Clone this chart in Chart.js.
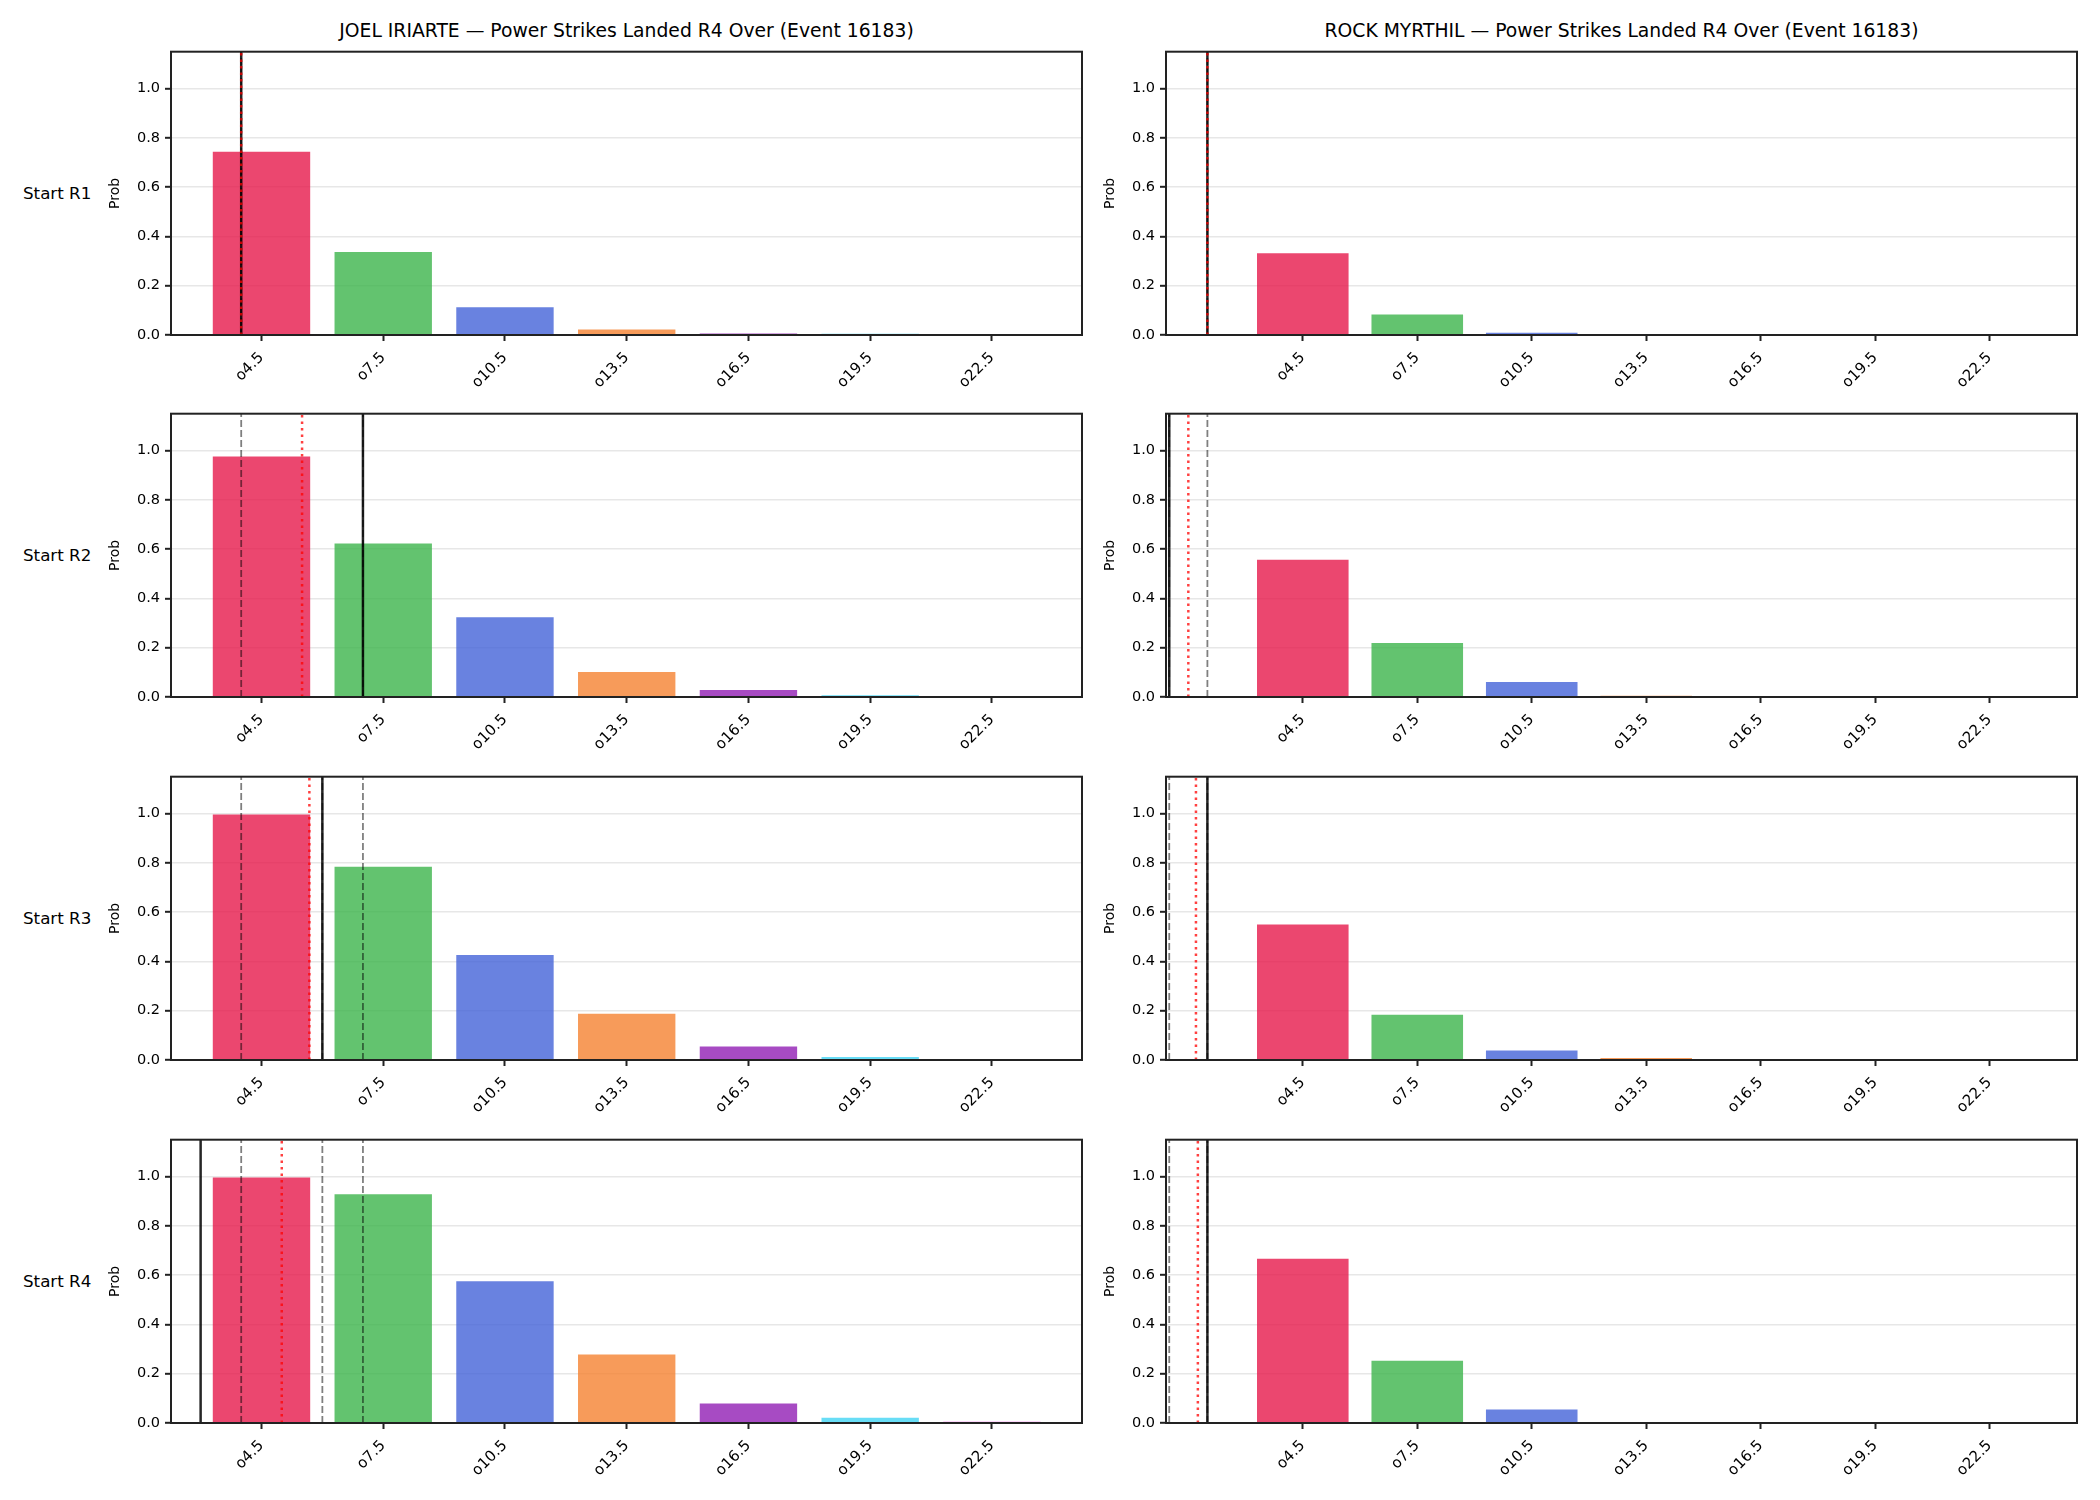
<!DOCTYPE html>
<html>
<head>
<meta charset="utf-8">
<script src="https://cdn.jsdelivr.net/npm/chart.js@4.4.0/dist/chart.umd.min.js"></script>
<style>
  body { margin: 0; background: #fff; width: 2100px; height: 1500px; position: relative; overflow: hidden; font-family: "DejaVu Sans", sans-serif; color: #000; }
  canvas { position: absolute; }
  .title { position: absolute; font-size: 18.75px; line-height: 20px; text-align: center; white-space: nowrap; }
  .rowlab { position: absolute; left: 23px; font-size: 16.7px; line-height: 20px; white-space: nowrap; }
</style>
</head>
<body>
<script>
// data
const fighters = ['JOEL IRIARTE', 'ROCK MYRTHIL'];
const market = 'Power Strikes Landed R4 Over (Event 16183)';
const startRounds = ['Start R1', 'Start R2', 'Start R3', 'Start R4'];
const lines = ['o4.5', 'o7.5', 'o10.5', 'o13.5', 'o16.5', 'o19.5', 'o22.5'];
const yTicks = [0, 0.2, 0.4, 0.6, 0.8, 1.0];

const joelProbs = [
    [0.744, 0.337, 0.113, 0.022, 0.006, 0.005, 0.001],
    [0.976, 0.623, 0.324, 0.101, 0.028, 0.007, 0.003],
    [0.997, 0.784, 0.426, 0.188, 0.055, 0.012, 0.004],
    [0.997, 0.929, 0.575, 0.278, 0.079, 0.021, 0.005]
];
const rockProbs = [
    [0.332, 0.083, 0.009, 0.001, 0.0, 0.0, 0.0],
    [0.557, 0.219, 0.061, 0.005, 0.003, 0.001, 0.0],
    [0.550, 0.184, 0.039, 0.008, 0.003, 0.001, 0.0],
    [0.667, 0.253, 0.055, 0.004, 0.001, 0.0, 0.0]
];

// vertical markers (strike counts)
const joelActual = [4, 7, 6, 3];
const joelMean = [4, 5.5, 5.68, 5.0];
const joelQuantiles = [[4], [4, 7], [4, 6, 7], [4, 6, 7]];
const rockActual = [2, 1, 2, 2];
const rockMean = [2, 1.5, 1.7, 1.75];
const rockQuantiles = [[2], [1, 2], [1, 2], [1, 2]];

const probs = [joelProbs, rockProbs];
const actuals = [joelActual, rockActual];
const means = [joelMean, rockMean];
const quantiles = [joelQuantiles, rockQuantiles];

// axis limits per column
const xLimits = [[2.27, 24.72], [0.915, 24.79]];
const yMax = 1.15;

// layout of the figure
const colLeft = [171, 1166];
const colRight = [1082, 2077];
const rowTop = [50, 412, 775, 1138];
const axH = 285;
const yAxisW = 80;
const xAxisH = 70;
const padTop = 12;
const padRight = 12;

const palette = ['#e6194b', '#3cb44b', '#4363d8', '#f58231', '#911eb4', '#42d4f4', '#f032e6'];
const fontFamily = '"DejaVu Sans", sans-serif';

function withAlpha(hex, a) {
    let r = parseInt(hex.slice(1, 3), 16), g = parseInt(hex.slice(3, 5), 16), b = parseInt(hex.slice(5, 7), 16);
    return 'rgba(' + r + ',' + g + ',' + b + ',' + a + ')';
}

const thresholds = lines.map(l => parseFloat(l.slice(1)));
const barColors = palette.map(c => withAlpha(c, 0.8));

const framePlugin = {
    id: 'frame',
    afterDraw(chart) {
        const ctx = chart.ctx, a = chart.chartArea;
        ctx.save();
        ctx.strokeStyle = '#222';
        ctx.lineWidth = 2;
        ctx.strokeRect(a.left, a.top, a.right - a.left, a.bottom - a.top);
        ctx.restore();
    }
};

function vline(x, color, width, dash, order) {
    return {
        type: 'line',
        data: [{ x: x, y: 0 }, { x: x, y: yMax }],
        borderColor: color,
        borderWidth: width,
        borderDash: dash,
        pointRadius: 0,
        fill: false,
        order: order
    };
}

function addText(cls, text, left, top, width) {
    let d = document.createElement('div');
    d.className = cls;
    d.textContent = text;
    d.style.left = left + 'px';
    d.style.top = top + 'px';
    if (width) d.style.width = width + 'px';
    document.body.appendChild(d);
}

for (let c = 0; c < 2; c++) {
    let axW = colRight[c] - colLeft[c];
    addText('title', fighters[c] + ' \u2014 ' + market, colLeft[c], 21, axW);

    for (let r = 0; r < 4; r++) {
        if (c === 0) addText('rowlab', startRounds[r], 23, rowTop[r] + axH / 2 - 10);

        let canvas = document.createElement('canvas');
        canvas.width = axW + yAxisW + padRight;
        canvas.height = padTop + axH + xAxisH;
        canvas.style.left = (colLeft[c] - yAxisW) + 'px';
        canvas.style.top = (rowTop[r] - padTop) + 'px';
        document.body.appendChild(canvas);

        let datasets = [{
            type: 'bar',
            data: probs[c][r].map((p, i) => ({ x: thresholds[i], y: p })),
            backgroundColor: barColors,
            borderWidth: 0,
            barPercentage: 0.8,
            categoryPercentage: 1,
            order: 10
        }];
        quantiles[c][r].forEach(q => datasets.push(vline(q, 'rgba(0,0,0,0.5)', 1.8, [7, 3], 3)));
        datasets.push(vline(actuals[c][r], 'rgba(0,0,0,0.85)', 2.5, [], 2));
        datasets.push(vline(means[c][r], 'rgba(255,0,0,0.75)', 2.5, [2.5, 4], 1));

        new Chart(canvas, {
            type: 'bar',
            data: { datasets: datasets },
            plugins: [framePlugin],
            options: {
                responsive: false,
                animation: false,
                devicePixelRatio: 1,
                layout: { padding: { left: 0, top: padTop, right: padRight, bottom: 0 } },
                plugins: { legend: { display: false }, tooltip: { enabled: false } },
                scales: {
                    x: {
                        type: 'linear',
                        min: xLimits[c][0],
                        max: xLimits[c][1],
                        offset: false,
                        afterBuildTicks: s => { s.ticks = thresholds.map(v => ({ value: v })); },
                        afterFit: s => { s.height = xAxisH; },
                        grid: { offset: false, drawOnChartArea: false, tickLength: 6, tickColor: '#222', tickWidth: 2 },
                        border: { display: false },
                        ticks: {
                            autoSkip: false,
                            minRotation: 45,
                            maxRotation: 45,
                            padding: 8,
                            color: '#000',
                            font: { family: fontFamily, size: 15 },
                            callback: (v, i) => lines[i]
                        }
                    },
                    y: {
                        min: 0,
                        max: yMax,
                        z: 1,
                        afterBuildTicks: s => { s.ticks = yTicks.map(v => ({ value: v })); },
                        afterFit: s => { s.width = yAxisW; },
                        grid: { color: 'rgba(176,176,176,0.3)', lineWidth: 1.6, tickLength: 6, tickColor: '#222', tickWidth: 2 },
                        border: { display: false },
                        ticks: {
                            padding: 5,
                            color: '#000',
                            font: { family: fontFamily, size: 14.5 },
                            callback: v => v.toFixed(1)
                        },
                        title: {
                            display: true,
                            text: 'Prob',
                            color: '#000',
                            font: { family: fontFamily, size: 14 },
                            padding: { top: 16, bottom: 0 }
                        }
                    }
                }
            }
        });
    }
}
</script>
</body>
</html>
